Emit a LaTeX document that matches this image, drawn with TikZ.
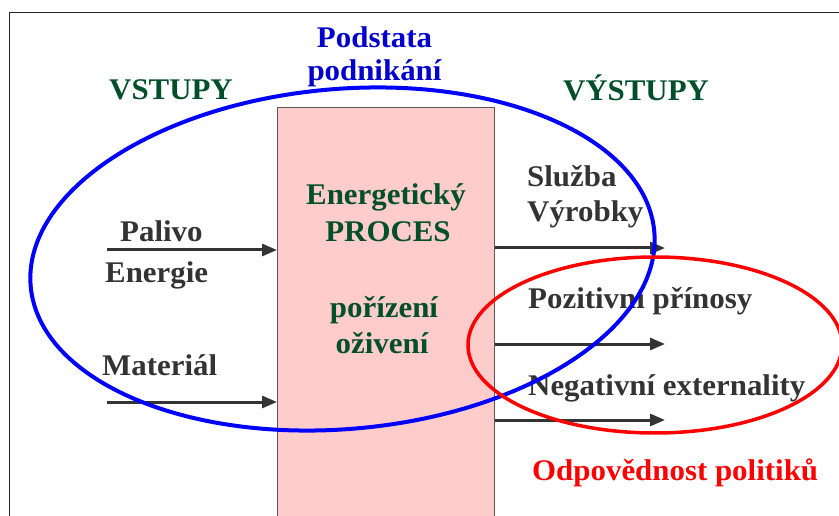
\documentclass[tikz,border=0pt]{standalone}
\usepackage{fontspec}
\setmainfont{Liberation Serif}[FakeStretch=1.03]
\usetikzlibrary{arrows.meta}
\definecolor{tgreen}{HTML}{004F2A}
\definecolor{tgray}{HTML}{333333}
\definecolor{tblue}{HTML}{0000CC}
\definecolor{boxpink}{HTML}{FFCCCC}
\begin{document}
\begin{tikzpicture}[x=1pt,y=-1pt,
  txt/.style={font=\fontsize{30}{36}\selectfont\bfseries, inner sep=0pt},
  lbl/.style={txt, text=tgray, anchor=base west},
  gl/.style={txt, text=tgreen, anchor=base},
  bl/.style={txt, text=tblue, anchor=base},
  arr/.style={draw=tgray, line width=3pt, -{Triangle[length=15pt,width=12pt]}},
  ]
\useasboundingbox (0,0) rectangle (839,516);
% frame
\draw[line width=1.5pt, black!85] (9.5,530) -- (9.5,12.5) -- (850,12.5);
% process box
\node[draw=black!65, line width=1.2pt, fill=boxpink, minimum width=217pt, minimum height=430pt,
      anchor=north west, inner sep=0pt] (proc) at (277,107) {};
% headings
\node[gl] (vstupy) at (171,100) {VSTUPY};
\node[gl] (vystupy) at (636,101) {VÝSTUPY};
\node[bl] (pod1) at (374.5,48) {Podstata};
\node[bl] (pod2) at (374.5,81) {podnikání};
% box texts
\node[gl] (en) at (386,205) {Energetický};
\node[gl] (pr) at (388,242) {PROCES};
\node[gl] (po) at (384,317) {pořízení};
\node[gl] (oz) at (382,353) {oživení};
% input labels
\node[lbl] (palivo) at (120,242) {Palivo};
\node[lbl] (energie) at (105,282) {Energie};
\node[lbl] (material) at (102,375) {Materiál};
% output labels
\node[lbl] (sluzba) at (527,187) {Služba};
\node[lbl] (vyrobky) at (527,222) {Výrobky};
\node[lbl] (poz) at (528,308) {Pozitivní přínosy};
\node[lbl] (neg) at (528,395) {Negativní externality};
\node[txt, text=red, anchor=base west] (odp) at (532,480) {Odpovědnost politiků};
% arrows
\coordinate (i1) at (107,250);
\coordinate (i2) at (107,402);
\coordinate (o1) at (665,248);
\coordinate (o2) at (665,344);
\coordinate (o3) at (665,420);
\draw[arr] (i1) -- (i1 -| proc.west);
\draw[arr] (i2) -- (i2 -| proc.west);
\draw[arr] (proc.east |- o1) -- (o1);
\draw[arr] (proc.east |- o2) -- (o2);
\draw[arr] (proc.east |- o3) -- (o3);
% ellipses
\draw[blue, line width=4pt, rotate around={5:(342.5,259)}] (342.5,259) ellipse [x radius=313, y radius=170];
\draw[red, line width=3.5pt] (655,345) ellipse [x radius=187, y radius=88];
\end{tikzpicture}
\end{document}
